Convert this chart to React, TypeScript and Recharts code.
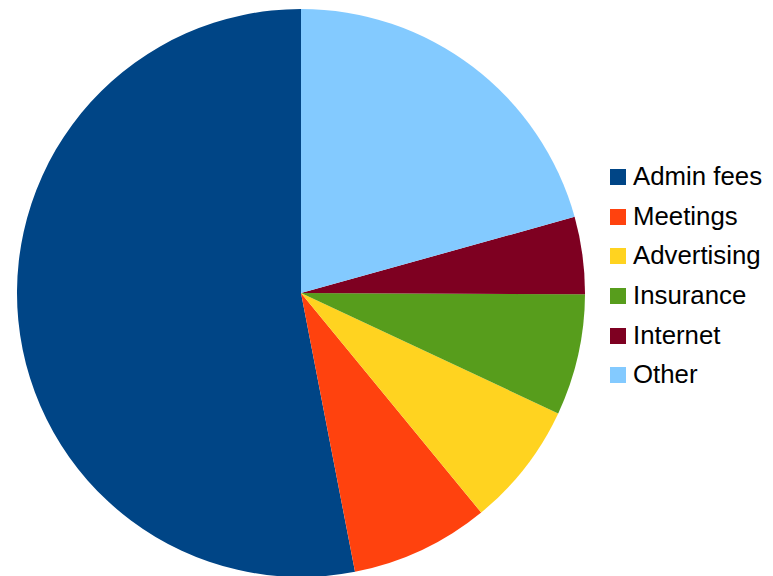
import React from 'react'
import { PieChart, Pie, Cell, Legend } from 'recharts'

const categories = ['Admin fees', 'Meetings', 'Advertising', 'Insurance', 'Internet', 'Other']
const values = [53.1, 7.9, 7.1, 6.9, 4.4, 20.7]
const colors = ['#004586', '#ff420e', '#ffd320', '#579d1c', '#7e0021', '#83caff']

const data = categories.map((name, i) => ({ name, value: values[i] }))

const LegendContent = () => (
  <div style={{ fontFamily: '"Liberation Sans", Arial, sans-serif', fontSize: 25.8, color: '#000' }}>
    {categories.map((name, i) => (
      <div key={name} style={{ display: 'flex', alignItems: 'center', height: 39.7 }}>
        <div style={{ width: 16, height: 16, backgroundColor: colors[i], marginRight: 7 }} />
        <span style={{ lineHeight: 1 }}>{name}</span>
      </div>
    ))}
  </div>
)

export default function App() {
  return (
    <div style={{ position: 'absolute', left: 0, top: 0, width: 773, height: 576, background: '#fff' }}>
      <PieChart width={773} height={576} margin={{ top: 0, right: 0, bottom: 0, left: 0 }}>
        <Pie
          data={data}
          dataKey="value"
          nameKey="name"
          cx={301}
          cy={293}
          innerRadius={0}
          outerRadius={284}
          startAngle={90}
          endAngle={450}
          stroke="none"
          isAnimationActive={false}
        >
          {data.map((d, i) => (
            <Cell key={d.name} fill={colors[i]} stroke="none" />
          ))}
        </Pie>
        <Legend
          layout="vertical"
          verticalAlign="top"
          align="right"
          wrapperStyle={{ left: 610, top: 157, width: 163 }}
          content={<LegendContent />}
        />
      </PieChart>
    </div>
  )
}
